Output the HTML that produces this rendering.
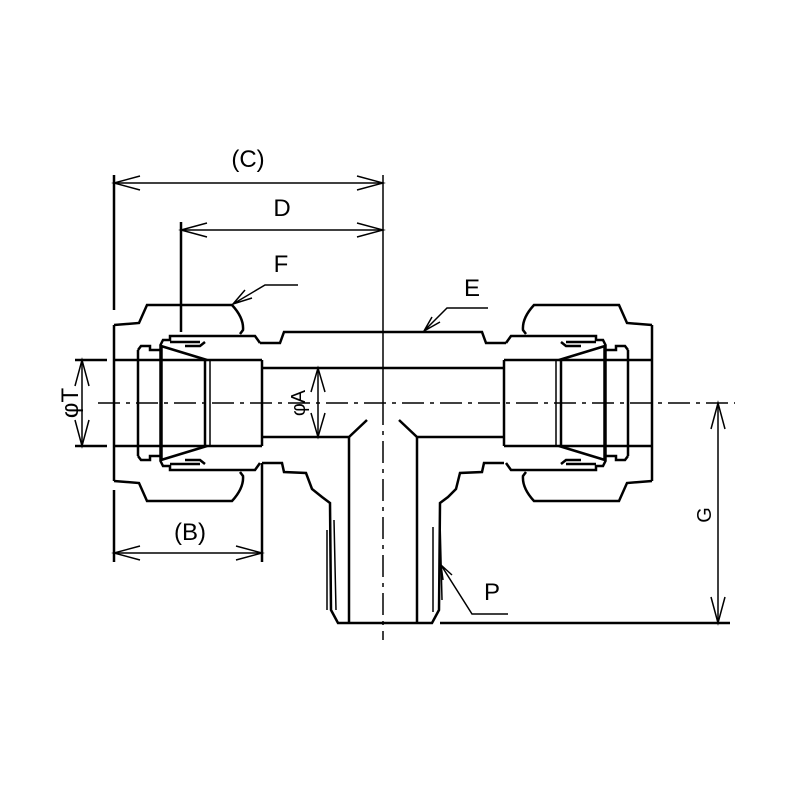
<!DOCTYPE html>
<html><head><style>body{margin:0;background:#fff}svg{display:block}</style></head><body>
<svg width="800" height="800" viewBox="0 0 800 800" xmlns="http://www.w3.org/2000/svg" font-family="Liberation Sans, sans-serif">
<rect width="800" height="800" fill="#fff"/>
<defs>
<g id="half" fill="none" stroke="#000" stroke-width="2.5">
  <path d="M114,325 L139,323 L147,305 L232,305 Q244,318 243,330 L240,334"/>
  <path d="M114,481 L139,483 L147,501 L232,501 Q244,488 243,476 L240,472"/>
  <line x1="114" y1="325" x2="114" y2="481"/>
  <line x1="114" y1="360" x2="262" y2="360"/>
  <line x1="114" y1="446" x2="262" y2="446"/>
  <line x1="262" y1="360" x2="262" y2="446"/>
  <path d="M138,350 L138,456"/>
  <path d="M161,346 L161,460" stroke-width="3.5"/>
  <path d="M205,360 L205,446"/>
  <path d="M210,360 L210,446" stroke-width="1.5"/>
  <path d="M161,346 L207,360"/>
  <path d="M161,460 L207,446"/>
  <path d="M138,350 L141,346 L150,346 L150,350 L160,350"/>
  <path d="M138,456 L141,460 L150,460 L150,456 L160,456"/>
  <path d="M160,346 L163,340 L170,340 L170,336 L255,336 L260,343"/>
  <path d="M160,460 L163,466 L170,466 L170,470 L255,470 L260,463"/>
  <path d="M170,342 L200,342 M170,464 L200,464"/>
  <path d="M185,346 L200,346 L205,342 M185,460 L200,460 L205,464"/>
  <path d="M260,343 L280,343 L284,332 L383,332"/>
  <line x1="262" y1="368" x2="383" y2="368"/>
</g>
</defs>
<use href="#half"/>
<use href="#half" transform="translate(766,0) scale(-1,1)"/>
<g fill="none" stroke="#000" stroke-width="2.5">
  <path d="M262,437 L349,437 L367,420"/>
  <path d="M504,437 L417,437 L399,420"/>
  <line x1="349" y1="437" x2="349" y2="623"/>
  <line x1="417" y1="437" x2="417" y2="623"/>
  <path d="M262,463 L282,463 L284,472 L306,473 L312,489 L322,497 L330,503 L331,610 L338,623 L432,623 L439,610 L440,503 L448,497 L456,489 L460,473 L482,472 L484,463 L504,463"/>
  <path d="M327,530 L327,610 M334,520 L336,610" stroke-width="1.5"/>
  <path d="M433,527 L433,612 M440,520 L442,600" stroke-width="1.5"/>
  <line x1="98" y1="403" x2="735" y2="403" stroke-width="1.5" stroke-dasharray="22,6,4,6"/>
  <line x1="383" y1="175" x2="383" y2="403" stroke-width="1.5"/>
  <line x1="383" y1="403" x2="383" y2="640" stroke-width="1.5" stroke-dasharray="22,6,4,6"/>
  <line x1="114" y1="175" x2="114" y2="310"/>
  <line x1="181" y1="222" x2="181" y2="332"/>
  <line x1="114" y1="490" x2="114" y2="562"/>
  <line x1="262" y1="463" x2="262" y2="562"/>
  <line x1="75" y1="360" x2="107" y2="360"/>
  <line x1="75" y1="446" x2="107" y2="446"/>
  <line x1="440" y1="623" x2="730" y2="623"/>
  <g stroke-width="1.5">
  <line x1="114" y1="183" x2="383" y2="183"/>
  <line x1="181" y1="230" x2="383" y2="230"/>
  <line x1="114" y1="553" x2="262" y2="553"/>
  <line x1="82" y1="360" x2="82" y2="446"/>
  <line x1="318" y1="368" x2="318" y2="437"/>
  <line x1="718" y1="403" x2="718" y2="623"/>
  <path d="M140,176 L114,183 L140,190 M357,176 L383,183 L357,190"/>
  <path d="M207,223 L181,230 L207,237 M357,223 L383,230 L357,237"/>
  <path d="M140,546 L114,553 L140,560 M236,546 L262,553 L236,560"/>
  <path d="M75,386 L82,360 L89,386 M75,420 L82,446 L89,420"/>
  <path d="M311,392 L318,368 L325,392 M311,413 L318,437 L325,413"/>
  <path d="M711,429 L718,403 L725,429 M711,597 L718,623 L725,597"/>
  <path d="M298,285 L265,285 L233,304 M245,290 L233,304 L252,298"/>
  <path d="M488,308 L447,308 L424,331 M432,317 L424,331 L440,322"/>
  <path d="M508,614 L472,614 L441,565 M443,580 L441,565 L452,575"/>
  </g>
</g>
<g font-size="24" fill="#000" text-anchor="middle">
  <text x="248" y="167">(C)</text>
  <text x="282" y="216">D</text>
  <text x="281" y="272">F</text>
  <text x="472" y="296">E</text>
  <text x="492" y="600">P</text>
  <text x="190" y="540">(B)</text>
  <text transform="translate(70,403) rotate(-90)" dy="8">φT</text>
  <text transform="translate(298,403) rotate(-90)" dy="7" font-size="20">φA</text>
  <text transform="translate(703,515) rotate(-90)" dy="8" font-size="20">G</text>
</g>
</svg>
</body></html>
